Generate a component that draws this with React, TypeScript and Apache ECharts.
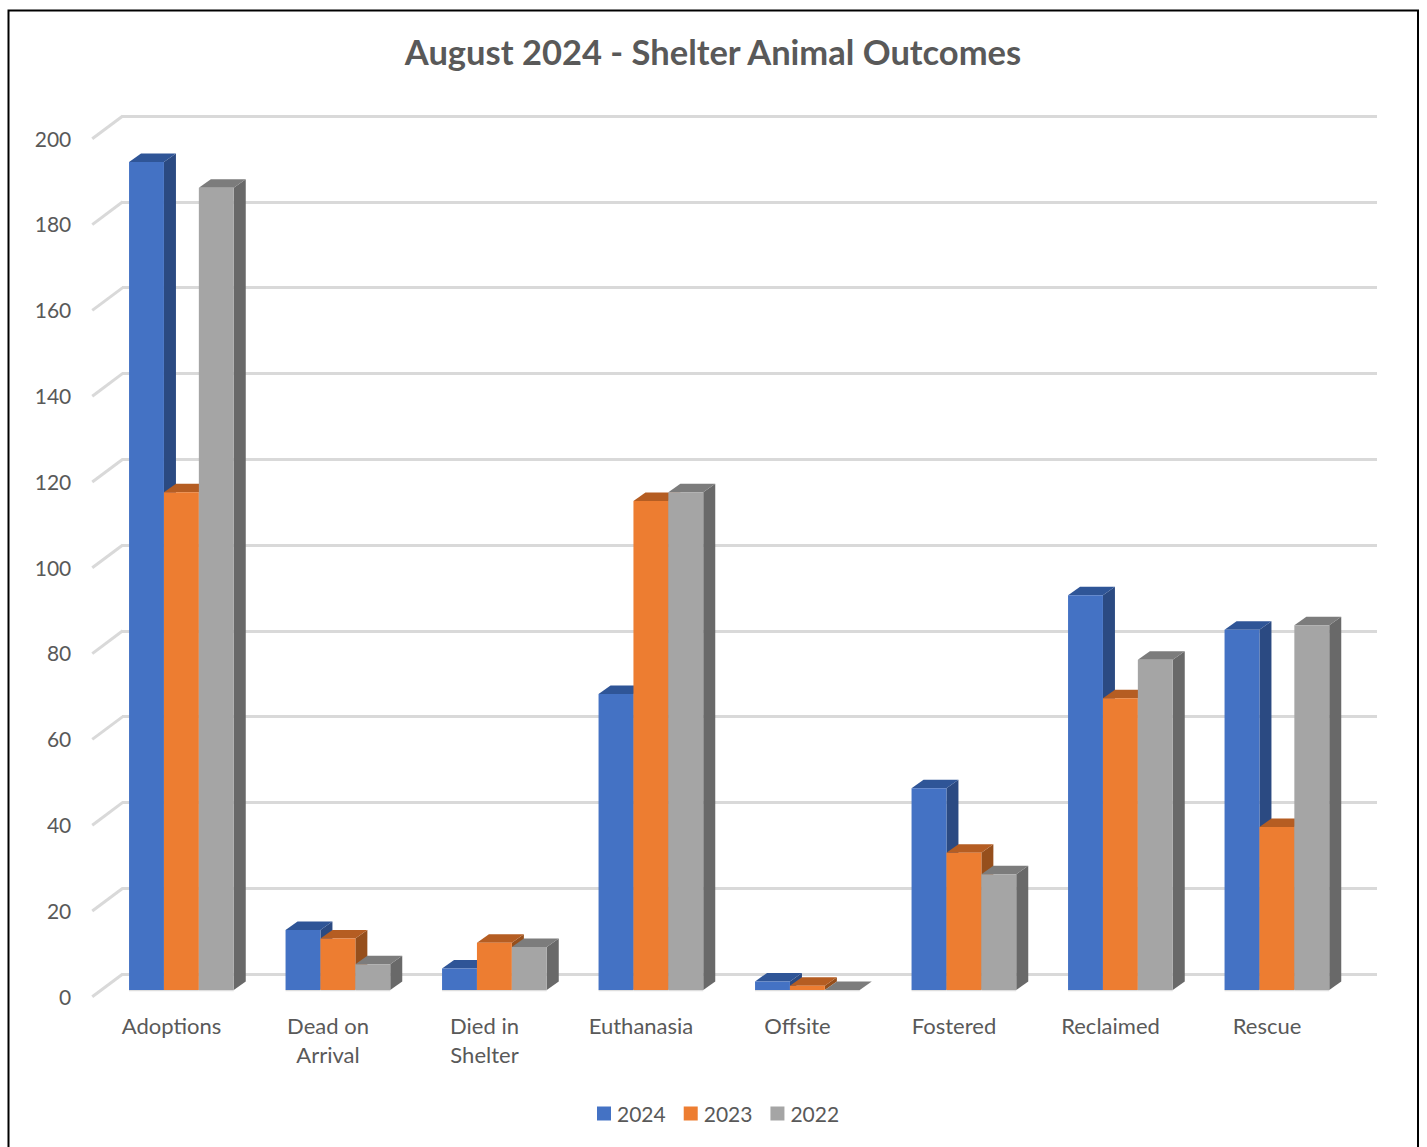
import React, { useEffect, useRef } from "react";
import * as echarts from "echarts";

const categories = ["Adoptions", "Dead on\nArrival", "Died in\nShelter", "Euthanasia", "Offsite", "Fostered", "Reclaimed", "Rescue"];
const values2024 = [193, 14, 5, 69, 2, 47, 92, 84];
const values2023 = [116, 12, 11, 114, 1, 32, 68, 38];
const values2022 = [187, 6, 10, 116, 0, 27, 77, 85];
const yTicks = [0, 20, 40, 60, 80, 100, 120, 140, 160, 180, 200];
const FONT = "Lato, Carlito, Calibri, sans-serif";
const TEXT = "#595959";
const GRID = "#d9d9d9";

const palettes = [
  { name: "2024", values: values2024, front: "#4472C4", top: "#2F5597", side: "#2B4A82" },
  { name: "2023", values: values2023, front: "#ED7D31", top: "#B55D22", side: "#964F1C" },
  { name: "2022", values: values2022, front: "#A5A5A5", top: "#7C7C7C", side: "#696969" },
];

const BAR_W = 34.9;
const DX = 12;
const DY = 8.5;
const SHIFT_X = 9.9;
const SHIFT_Y = -6;

function barSeries(p: (typeof palettes)[number], idx: number) {
  return {
    type: "custom",
    name: p.name,
    xAxisIndex: 0,
    yAxisIndex: 0,
    silent: true,
    clip: false,
    itemStyle: { color: p.front },
    encode: { x: 0, y: 1 },
    data: p.values.map((v, i) => [i, v]),
    z: 5 + idx,
    renderItem: (_params: any, api: any) => {
      const top = api.coord([api.value(0), api.value(1)]);
      const base = api.coord([api.value(0), 0]);
      const x0 = top[0] + SHIFT_X + (idx - 1.5) * BAR_W;
      const x1 = x0 + BAR_W;
      const yT = top[1] + SHIFT_Y;
      const yB = base[1] + SHIFT_Y;
      const poly = (points: number[][], fill: string) => ({ type: "polygon", shape: { points }, style: { fill, stroke: "none" } });
      return {
        type: "group",
        children: [
          { type: "line", shape: { x1: x0, y1: yB + 0.5, x2: x1, y2: yB + 0.5 }, style: { stroke: "#dedede", lineWidth: 1.5 } },
          poly([[x1, yT], [x1 + DX, yT - DY], [x1 + DX, yB - DY], [x1, yB]], p.side),
          poly([[x0, yT], [x0 + DX, yT - DY], [x1 + DX, yT - DY], [x1, yT]], p.top),
          poly([[x0, yT], [x1, yT], [x1, yB], [x0, yB]], p.front),
        ],
      };
    },
  };
}

export default function App() {
  const ref = useRef<HTMLDivElement>(null);
  useEffect(() => {
    const chart = echarts.init(ref.current!, undefined, { renderer: "svg" });
    chart.setOption({
      animation: false,
      backgroundColor: "#ffffff",
      textStyle: { fontFamily: FONT },
      title: {
        text: "August 2024 - Shelter Animal Outcomes",
        left: 708,
        top: 29,
        textAlign: "center",
        textStyle: { fontFamily: FONT, fontSize: 34.5, fontWeight: "bold", color: TEXT },
      },
      legend: {
        left: 592,
        top: 1098,
        icon: "rect",
        itemWidth: 14,
        itemHeight: 14,
        itemGap: 18,
        data: palettes.map((p) => p.name),
        textStyle: { fontFamily: FONT, fontSize: 21, color: TEXT, padding: [0, 0, 0, 1] },
      },
      grid: [
        { left: 93.25, width: 1252, top: 138, height: 858, containLabel: false },
        { left: 122, width: 1255, top: 116, height: 858, containLabel: false },
      ],
      xAxis: [
        {
          type: "category",
          gridIndex: 0,
          data: categories,
          axisLine: { show: false },
          axisTick: { show: false },
          splitLine: { show: false },
          axisLabel: { interval: 0, margin: 15, fontFamily: FONT, fontSize: 22, color: TEXT, lineHeight: 29 },
        },
        {
          type: "category",
          gridIndex: 1,
          data: categories,
          axisLine: { show: false },
          axisTick: { show: false },
          axisLabel: { show: false },
          splitLine: { show: false },
        },
      ],
      yAxis: [
        {
          type: "value",
          gridIndex: 0,
          min: 0,
          max: 200,
          interval: 20,
          axisLine: { show: false },
          axisTick: { show: false },
          splitLine: { show: false },
          axisLabel: { margin: 22, fontFamily: FONT, fontSize: 21, color: TEXT, padding: [0, 0, 1, 0] },
        },
        {
          type: "value",
          gridIndex: 1,
          min: 0,
          max: 200,
          interval: 20,
          axisLine: { show: false },
          axisTick: { show: false },
          axisLabel: { show: false },
          splitLine: { show: true, lineStyle: { color: GRID, width: 3 } },
        },
      ],
      series: [
        {
          type: "custom",
          xAxisIndex: 0,
          yAxisIndex: 0,
          silent: true,
          clip: false,
          z: 1,
          encode: { x: 0, y: 1 },
          data: yTicks.map((t) => [0, t]),
          renderItem: (params: any, api: any) => {
            const pt = api.coord([0, api.value(1)]);
            const xStart = params.coordSys.x - 1;
            return {
              type: "line",
              shape: { x1: xStart, y1: pt[1] + 0.8, x2: xStart + 30.5, y2: pt[1] - 22 },
              style: { stroke: GRID, lineWidth: 3 },
            };
          },
        },
        ...palettes.map(barSeries),
      ],
      graphic: [
        {
          type: "polyline",
          silent: true,
          shape: { points: [[8.5, 1147], [8.5, 10.5], [1418, 10.5], [1418, 1147]] },
          style: { stroke: "#000000", lineWidth: 2, fill: "none" },
        },
      ],
    });
    return () => chart.dispose();
  }, []);
  return <div ref={ref} style={{ position: "fixed", left: 0, top: 0, width: 1427, height: 1147 }} />;
}
